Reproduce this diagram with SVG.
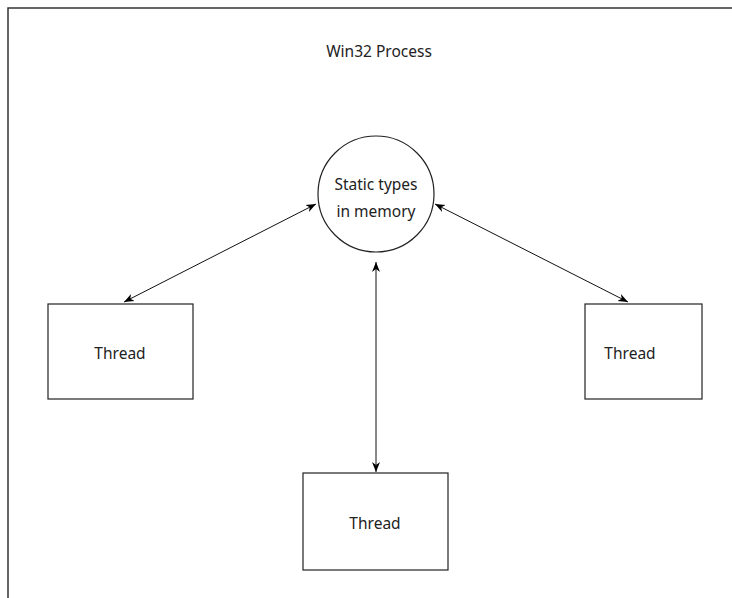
<svg xmlns="http://www.w3.org/2000/svg" width="732" height="598" viewBox="0 0 732 598">
<defs>
<marker id="ah" viewBox="0 0 10 10" refX="10" refY="5" markerWidth="10" markerHeight="10" markerUnits="userSpaceOnUse" orient="auto-start-reverse">
<path d="M0,1 L10,5 L0,9 L3,5 Z" fill="#000"/>
</marker>
<style>
.frame{fill:none;stroke:#333;stroke-width:1.5}
.node{fill:#fff;stroke:#222;stroke-width:1.2}
.conn{fill:none;stroke:#111;stroke-width:1;marker-start:url(#ah);marker-end:url(#ah)}
text{font-family:"Noto Sans","Liberation Sans",sans-serif;font-size:15.5px;fill:#222;text-anchor:middle}
</style>
</defs>
<rect width="732" height="598" fill="#fff"/>
<path class="frame" d="M8,598 V8 H732"/>
<text x="379" y="57">Win32 Process</text>
<g id="connectors">
<line class="conn" x1="316" y1="204" x2="124" y2="302"/>
<line class="conn" x1="435" y1="204" x2="628" y2="302"/>
<line class="conn" x1="376" y1="262" x2="376" y2="472"/>
</g>
<g id="memory">
<circle class="node" cx="376" cy="194" r="58"/>
<text x="376" y="190">Static types</text>
<text x="376" y="217">in memory</text>
</g>
<g id="thread-left">
<rect class="node" x="48" y="304" width="145" height="95"/>
<text x="120" y="359">Thread</text>
</g>
<g id="thread-right">
<rect class="node" x="585" y="304" width="117" height="95"/>
<text x="630" y="359">Thread</text>
</g>
<g id="thread-bottom">
<rect class="node" x="303" y="473" width="145" height="97"/>
<text x="375" y="529">Thread</text>
</g>
</svg>
